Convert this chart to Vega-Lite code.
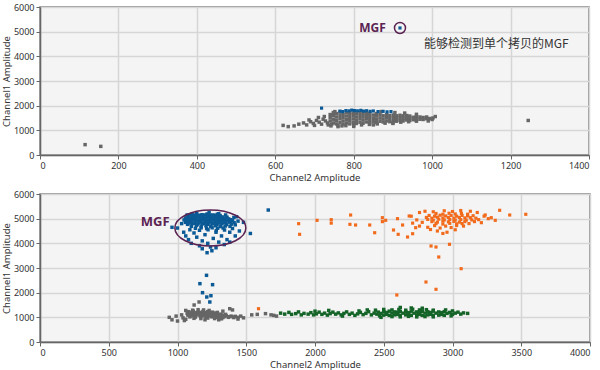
{
"$schema": "https://vega.github.io/schema/vega-lite/v6.json",
"padding": {"left": 0, "top": 2, "right": 0, "bottom": 0},
"background": "white",
"config": {
  "view": {"fill": "#f4f4f4", "stroke": "#7a7a7a", "strokeWidth": 1.5},
  "font": "Noto Sans",
  "axis": {"grid": true, "gridColor": "#d6d6d6", "gridWidth": 1.5, "domainColor": "#666666", "domainWidth": 1.5, "tickColor": "#666666", "tickSize": 4, "labelFont": "Noto Sans", "labelFontSize": 9, "labelColor": "#333333", "labelPadding": 2, "titleFont": "Noto Sans", "titleFontSize": 9.5, "titleFontWeight": "normal", "titleColor": "#333333", "titlePadding": 2, "format": "d"},
  "axisX": {"titlePadding": 2},
  "concat": {"spacing": 6}
},
"datasets": {
  "tg": [{"x":740,"y":1380},{"x":740,"y":1520},{"x":740,"y":1640},{"x":748,"y":1300},{"x":748,"y":1450},{"x":748,"y":1600},{"x":748,"y":1720},{"x":756,"y":1260},{"x":756,"y":1400},{"x":756,"y":1540},{"x":756,"y":1680},{"x":765,"y":1320},{"x":765,"y":1470},{"x":765,"y":1610},{"x":765,"y":1740},{"x":773,"y":1250},{"x":773,"y":1380},{"x":773,"y":1520},{"x":773,"y":1650},{"x":782,"y":1300},{"x":782,"y":1440},{"x":782,"y":1580},{"x":782,"y":1720},{"x":790,"y":1260},{"x":790,"y":1390},{"x":790,"y":1510},{"x":790,"y":1640},{"x":790,"y":1740},{"x":799,"y":1320},{"x":799,"y":1460},{"x":799,"y":1590},{"x":799,"y":1700},{"x":807,"y":1280},{"x":807,"y":1410},{"x":807,"y":1540},{"x":807,"y":1670},{"x":816,"y":1330},{"x":816,"y":1470},{"x":816,"y":1600},{"x":816,"y":1720},{"x":824,"y":1290},{"x":824,"y":1420},{"x":824,"y":1550},{"x":824,"y":1680},{"x":833,"y":1340},{"x":833,"y":1480},{"x":833,"y":1610},{"x":833,"y":1700},{"x":841,"y":1310},{"x":841,"y":1440},{"x":841,"y":1570},{"x":841,"y":1690},{"x":850,"y":1350},{"x":850,"y":1490},{"x":850,"y":1620},{"x":858,"y":1320},{"x":858,"y":1450},{"x":858,"y":1580},{"x":858,"y":1680},{"x":867,"y":1370},{"x":867,"y":1500},{"x":867,"y":1630},{"x":875,"y":1340},{"x":875,"y":1460},{"x":875,"y":1590},{"x":884,"y":1380},{"x":884,"y":1510},{"x":884,"y":1640},{"x":892,"y":1350},{"x":892,"y":1470},{"x":892,"y":1600},{"x":901,"y":1390},{"x":901,"y":1520},{"x":901,"y":1620},{"x":909,"y":1370},{"x":909,"y":1480},{"x":909,"y":1590},{"x":918,"y":1400},{"x":918,"y":1520},{"x":918,"y":1610},{"x":926,"y":1380},{"x":926,"y":1490},{"x":926,"y":1590},{"x":935,"y":1420},{"x":935,"y":1530},{"x":935,"y":1600},{"x":943,"y":1400},{"x":943,"y":1500},{"x":943,"y":1580},{"x":952,"y":1430},{"x":952,"y":1530},{"x":960,"y":1420},{"x":960,"y":1510},{"x":960,"y":1570},{"x":969,"y":1450},{"x":969,"y":1540},{"x":977,"y":1440},{"x":977,"y":1520},{"x":986,"y":1470},{"x":986,"y":1540},{"x":994,"y":1480},{"x":1002,"y":1500},
    {"x":760,"y":1200},{"x":780,"y":1190},{"x":800,"y":1210},{"x":820,"y":1220},{"x":840,"y":1240},{"x":860,"y":1260},{"x":880,"y":1290},{"x":900,"y":1310},{"x":920,"y":1330},{"x":940,"y":1350},{"x":960,"y":1370},{"x":752,"y":1760},{"x":744,"y":1250},
    {"x":620,"y":1200},{"x":633,"y":1150},{"x":648,"y":1180},{"x":660,"y":1250},{"x":672,"y":1300},{"x":680,"y":1220},{"x":690,"y":1350},{"x":697,"y":1280},{"x":705,"y":1400},{"x":712,"y":1330},{"x":718,"y":1250},{"x":722,"y":1450},{"x":728,"y":1380},{"x":733,"y":1300},{"x":700,"y":1200},{"x":686,"y":1420},{"x":710,"y":1520},{"x":725,"y":1560},{"x":735,"y":1220},{"x":742,"y":1180},{"x":760,"y":1150},{"x":770,"y":1180},{"x":800,"y":1160},{"x":850,"y":1220},{"x":900,"y":1280},{"x":990,"y":1380},{"x":1008,"y":1560},{"x":1000,"y":1440},{"x":960,"y":1650},{"x":930,"y":1700},{"x":870,"y":1760},{"x":905,"y":1720},{"x":115,"y":420},{"x":155,"y":350},{"x":1245,"y":1400}],
  "tb": [{"x":718,"y":1900},{"x":765,"y":1780},{"x":772,"y":1760},{"x":780,"y":1800},{"x":788,"y":1790},{"x":795,"y":1820},{"x":802,"y":1800},{"x":810,"y":1790},{"x":818,"y":1810},{"x":825,"y":1780},{"x":833,"y":1795},{"x":842,"y":1770},{"x":850,"y":1785},{"x":862,"y":1760},{"x":875,"y":1770},{"x":885,"y":1750},{"x":895,"y":1760},{"x":918,"y":5150}],
  "tnote": [{"x":918,"y":5150}],
  "tmgf": [{"x":882,"y":5150,"t":"MGF"}],
  "tcn": [{"x":979,"y":4480,"t":"能够检测到单个拷贝的MGF"}],
  "bb": [{"x":1105,"y":5170},{"x":1140,"y":5200},{"x":1178,"y":5160},{"x":1215,"y":5190},{"x":1255,"y":5150},{"x":1290,"y":5180},{"x":1075,"y":5110},{"x":1112,"y":5080},{"x":1148,"y":5120},{"x":1183,"y":5090},{"x":1220,"y":5110},{"x":1258,"y":5080},{"x":1293,"y":5100},{"x":1325,"y":5070},{"x":1360,"y":5060},{"x":1058,"y":5030},{"x":1093,"y":5000},{"x":1128,"y":5040},{"x":1163,"y":5010},{"x":1198,"y":5030},{"x":1236,"y":5000},{"x":1271,"y":5030},{"x":1306,"y":5000},{"x":1341,"y":5020},{"x":1372,"y":4990},{"x":1048,"y":4950},{"x":1083,"y":4920},{"x":1118,"y":4960},{"x":1153,"y":4930},{"x":1188,"y":4950},{"x":1225,"y":4920},{"x":1262,"y":4950},{"x":1297,"y":4920},{"x":1332,"y":4940},{"x":1367,"y":4910},{"x":1400,"y":4930},{"x":1058,"y":4850},{"x":1093,"y":4880},{"x":1128,"y":4840},{"x":1163,"y":4870},{"x":1200,"y":4850},{"x":1237,"y":4870},{"x":1272,"y":4840},{"x":1307,"y":4870},{"x":1342,"y":4840},{"x":1377,"y":4860},{"x":1412,"y":4840},{"x":1073,"y":4770},{"x":1108,"y":4800},{"x":1143,"y":4760},{"x":1180,"y":4790},{"x":1217,"y":4770},{"x":1252,"y":4790},{"x":1287,"y":4760},{"x":1322,"y":4790},{"x":1357,"y":4760},{"x":1392,"y":4780},{"x":1100,"y":4690},{"x":1137,"y":4720},{"x":1172,"y":4690},{"x":1207,"y":4710},{"x":1242,"y":4690},{"x":1277,"y":4710},{"x":1312,"y":4680},{"x":1347,"y":4700},{"x":1382,"y":4690},{"x":1130,"y":4610},{"x":1172,"y":4630},{"x":1212,"y":4600},{"x":1252,"y":4630},{"x":1292,"y":4610},{"x":1332,"y":4620},{"x":1160,"y":4530},{"x":1222,"y":4550},{"x":1282,"y":4520},{"x":1342,"y":4540},
    {"x":1090,"y":5140},{"x":1125,"y":5150},{"x":1160,"y":5140},{"x":1198,"y":5150},{"x":1238,"y":5130},{"x":1275,"y":5140},{"x":1310,"y":5130},{"x":1075,"y":5060},{"x":1110,"y":5050},{"x":1145,"y":5070},{"x":1180,"y":5050},{"x":1218,"y":5060},{"x":1253,"y":5050},{"x":1288,"y":5060},{"x":1323,"y":5040},{"x":1356,"y":5020},{"x":1065,"y":4990},{"x":1100,"y":4970},{"x":1135,"y":4990},{"x":1170,"y":4970},{"x":1207,"y":4990},{"x":1243,"y":4970},{"x":1280,"y":4980},{"x":1315,"y":4960},{"x":1350,"y":4970},{"x":1385,"y":4960},{"x":1065,"y":4900},{"x":1100,"y":4900},{"x":1135,"y":4910},{"x":1170,"y":4890},{"x":1207,"y":4900},{"x":1243,"y":4890},{"x":1280,"y":4900},{"x":1315,"y":4890},{"x":1350,"y":4900},{"x":1385,"y":4890},{"x":1085,"y":4820},{"x":1120,"y":4810},{"x":1155,"y":4820},{"x":1190,"y":4810},{"x":1226,"y":4820},{"x":1262,"y":4810},{"x":1297,"y":4820},
    {"x":1000,"y":4620},{"x":1030,"y":4800},{"x":1045,"y":4450},{"x":1060,"y":4300},{"x":1080,"y":4150},{"x":1100,"y":4000},{"x":1120,"y":4420},{"x":1140,"y":4250},{"x":1160,"y":3900},{"x":1180,"y":4100},{"x":1200,"y":4350},{"x":1220,"y":4000},{"x":1240,"y":3850},{"x":1260,"y":4200},{"x":1280,"y":4450},{"x":1300,"y":4050},{"x":1320,"y":4300},{"x":1340,"y":3950},{"x":1360,"y":4150},{"x":1380,"y":4450},{"x":1400,"y":4600},{"x":1420,"y":4750},{"x":1440,"y":4900},{"x":1450,"y":4500},{"x":1420,"y":4300},{"x":1380,"y":4050},{"x":1090,"y":4550},{"x":1070,"y":5150},{"x":1230,"y":5260},{"x":1300,"y":5200},{"x":1350,"y":5150},{"x":1410,"y":5050},{"x":1430,"y":5080},{"x":1250,"y":3700},{"x":1215,"y":3620},{"x":1180,"y":3780},{"x":1280,"y":3820},{"x":960,"y":4650},{"x":1660,"y":5350},{"x":1530,"y":4400},{"x":1480,"y":4850},
    {"x":1211,"y":2703},{"x":1163,"y":2365},{"x":1255,"y":2324},{"x":1182,"y":2000},{"x":1213,"y":1824},{"x":1243,"y":1877},{"x":1235,"y":1622}],
  "bo": [{"x":2880,"y":5210},{"x":2930,"y":5180},{"x":2975,"y":5220},{"x":3020,"y":5190},{"x":3065,"y":5210},{"x":3110,"y":5180},{"x":2830,"y":5130},{"x":2870,"y":5100},{"x":2910,"y":5140},{"x":2950,"y":5110},{"x":2990,"y":5130},{"x":3030,"y":5100},{"x":3070,"y":5130},{"x":3110,"y":5110},{"x":3150,"y":5120},{"x":2810,"y":5050},{"x":2850,"y":5020},{"x":2890,"y":5060},{"x":2930,"y":5030},{"x":2970,"y":5050},{"x":3010,"y":5020},{"x":3050,"y":5050},{"x":3090,"y":5030},{"x":3130,"y":5040},{"x":3170,"y":5020},{"x":2820,"y":4970},{"x":2860,"y":4940},{"x":2900,"y":4980},{"x":2940,"y":4950},{"x":2980,"y":4970},{"x":3020,"y":4940},{"x":3060,"y":4960},{"x":3100,"y":4940},{"x":3140,"y":4950},{"x":2850,"y":4880},{"x":2890,"y":4860},{"x":2930,"y":4900},{"x":2970,"y":4870},{"x":3010,"y":4890},{"x":3050,"y":4860},{"x":3090,"y":4880},{"x":2880,"y":4800},{"x":2930,"y":4780},{"x":2980,"y":4810},{"x":3030,"y":4790},{"x":3070,"y":4800},
    {"x":2700,"y":5100},{"x":2740,"y":4950},{"x":2760,"y":5250},{"x":2780,"y":4850},{"x":2800,"y":5300},{"x":2760,"y":4700},{"x":2820,"y":4650},{"x":2870,"y":4720},{"x":2910,"y":4620},{"x":2950,"y":4700},{"x":2990,"y":4640},{"x":3030,"y":4720},{"x":3080,"y":4700},{"x":3120,"y":4800},{"x":3160,"y":4880},{"x":3190,"y":4960},{"x":3210,"y":4837},{"x":3230,"y":5100},{"x":3260,"y":5000},{"x":3282,"y":5040},{"x":3311,"y":4933},{"x":3238,"y":5150},{"x":3180,"y":5250},{"x":3130,"y":5300},{"x":3060,"y":5330},{"x":3000,"y":5290},{"x":2940,"y":5320},{"x":2860,"y":5280},{"x":2840,"y":4560},{"x":2890,"y":4500},{"x":2960,"y":4450},{"x":3020,"y":4550},{"x":2930,"y":4400},{"x":3343,"y":5339},{"x":3416,"y":5148},{"x":3533,"y":5177},{"x":2685,"y":5108},{"x":2710,"y":4820},{"x":2732,"y":4634},{"x":2710,"y":4390},{"x":2673,"y":4257},{"x":2637,"y":4743},{"x":2605,"y":4365},{"x":2571,"y":4540},{"x":2600,"y":5000},{"x":2490,"y":5040},{"x":2514,"y":4933},{"x":2490,"y":4880},{"x":2434,"y":4430},{"x":2398,"y":4743},{"x":2295,"y":4743},{"x":2254,"y":4770},{"x":2259,"y":5148},{"x":2118,"y":4960},{"x":2118,"y":4820},{"x":2015,"y":4933},{"x":1881,"y":4797},{"x":1888,"y":4365},{"x":2844,"y":3892},{"x":2880,"y":3851},{"x":2900,"y":3446},{"x":2978,"y":3960},{"x":3063,"y":2972},{"x":2807,"y":2432},{"x":2880,"y":2136},{"x":2595,"y":1905},{"x":1589,"y":1350}],
  "bgr": [{"x":2560,"y":1300},{"x":2610,"y":1320},{"x":2660,"y":1290},{"x":2710,"y":1330},{"x":2760,"y":1300},{"x":2810,"y":1310},{"x":2860,"y":1290},{"x":2500,"y":1230},{"x":2540,"y":1250},{"x":2580,"y":1220},{"x":2620,"y":1240},{"x":2660,"y":1230},{"x":2700,"y":1250},{"x":2740,"y":1220},{"x":2780,"y":1240},{"x":2820,"y":1230},{"x":2860,"y":1250},{"x":2900,"y":1220},{"x":2940,"y":1230},{"x":2480,"y":1160},{"x":2520,"y":1150},{"x":2560,"y":1170},{"x":2600,"y":1150},{"x":2640,"y":1170},{"x":2680,"y":1150},{"x":2720,"y":1170},{"x":2760,"y":1150},{"x":2800,"y":1170},{"x":2840,"y":1150},{"x":2880,"y":1170},{"x":2920,"y":1150},{"x":2960,"y":1160},{"x":2500,"y":1090},{"x":2540,"y":1080},{"x":2580,"y":1100},{"x":2620,"y":1080},{"x":2660,"y":1100},{"x":2700,"y":1080},{"x":2740,"y":1100},{"x":2780,"y":1080},{"x":2820,"y":1100},{"x":2860,"y":1080},{"x":2900,"y":1090},{"x":2940,"y":1080},{"x":2560,"y":1030},{"x":2620,"y":1020},{"x":2680,"y":1040},{"x":2740,"y":1020},{"x":2800,"y":1030},{"x":2860,"y":1020},
    {"x":2520,"y":1195},{"x":2600,"y":1200},{"x":2680,"y":1190},{"x":2760,"y":1200},{"x":2840,"y":1195},{"x":2920,"y":1190},{"x":2520,"y":1125},{"x":2600,"y":1120},{"x":2680,"y":1130},{"x":2760,"y":1120},{"x":2840,"y":1125},{"x":2920,"y":1120},
    {"x":1750,"y":1170},{"x":1780,"y":1130},{"x":1810,"y":1200},{"x":1830,"y":1120},{"x":1860,"y":1150},{"x":1880,"y":1220},{"x":1900,"y":1100},{"x":1920,"y":1160},{"x":1950,"y":1130},{"x":1970,"y":1190},{"x":1990,"y":1100},{"x":2010,"y":1140},{"x":2030,"y":1210},{"x":2050,"y":1120},{"x":2070,"y":1170},{"x":2090,"y":1090},{"x":2110,"y":1150},{"x":2130,"y":1210},{"x":2150,"y":1130},{"x":2170,"y":1180},{"x":2190,"y":1100},{"x":2210,"y":1160},{"x":2230,"y":1220},{"x":2250,"y":1120},{"x":2270,"y":1170},{"x":2290,"y":1080},{"x":2310,"y":1140},{"x":2330,"y":1200},{"x":2350,"y":1110},{"x":2370,"y":1160},{"x":2390,"y":1230},{"x":2410,"y":1100},{"x":2430,"y":1170},{"x":2450,"y":1130},{"x":2460,"y":1210},{"x":2470,"y":1060},{"x":2200,"y":1050},{"x":2320,"y":1260},{"x":2100,"y":1280},{"x":2000,"y":1250},{"x":2380,"y":1300},{"x":2440,"y":1290},{"x":2980,"y":1200},{"x":3000,"y":1120},{"x":3020,"y":1170},{"x":3040,"y":1210},{"x":3060,"y":1130},{"x":3080,"y":1180},{"x":3110,"y":1160},{"x":3000,"y":1260},{"x":2990,"y":1060},{"x":2950,"y":1300},{"x":2700,"y":1380},{"x":2620,"y":1400},{"x":2780,"y":1370},{"x":2500,"y":1320},{"x":2480,"y":1000}],
  "bg": [{"x":1110,"y":1290},{"x":1150,"y":1310},{"x":1190,"y":1300},{"x":1230,"y":1280},{"x":1080,"y":1230},{"x":1115,"y":1250},{"x":1150,"y":1220},{"x":1185,"y":1240},{"x":1220,"y":1230},{"x":1255,"y":1210},{"x":1290,"y":1200},{"x":1070,"y":1160},{"x":1105,"y":1170},{"x":1140,"y":1150},{"x":1175,"y":1170},{"x":1210,"y":1150},{"x":1245,"y":1160},{"x":1280,"y":1140},{"x":1315,"y":1130},{"x":1350,"y":1120},{"x":1075,"y":1090},{"x":1110,"y":1080},{"x":1145,"y":1100},{"x":1180,"y":1080},{"x":1215,"y":1090},{"x":1250,"y":1080},{"x":1285,"y":1070},{"x":1320,"y":1060},{"x":1355,"y":1060},{"x":1390,"y":1050},{"x":1420,"y":1040},{"x":1090,"y":1020},{"x":1130,"y":1010},{"x":1170,"y":1030},{"x":1210,"y":1010},{"x":1250,"y":1020},{"x":1290,"y":1000},{"x":1330,"y":990},{"x":1370,"y":1000},{"x":1410,"y":990},{"x":1440,"y":1000},{"x":1120,"y":960},{"x":1170,"y":950},{"x":1220,"y":970},{"x":1270,"y":950},{"x":1320,"y":940},
    {"x":1095,"y":1200},{"x":1130,"y":1190},{"x":1165,"y":1200},{"x":1200,"y":1190},{"x":1235,"y":1195},{"x":1270,"y":1175},{"x":1090,"y":1125},{"x":1125,"y":1120},{"x":1160,"y":1130},{"x":1195,"y":1120},{"x":1230,"y":1125},{"x":1265,"y":1110},{"x":1300,"y":1100},{"x":1335,"y":1090},{"x":1095,"y":1055},{"x":1130,"y":1050},{"x":1165,"y":1060},{"x":1200,"y":1050},{"x":1235,"y":1055},{"x":1270,"y":1040},{"x":1305,"y":1030},{"x":1340,"y":1030},{"x":1375,"y":1025},{"x":1405,"y":1015},
    {"x":940,"y":1000},{"x":960,"y":900},{"x":1000,"y":850},{"x":990,"y":1050},{"x":1030,"y":1100},{"x":1050,"y":870},{"x":1040,"y":980},{"x":1060,"y":1280},{"x":1460,"y":1050},{"x":1480,"y":980},{"x":1400,"y":1300},{"x":1380,"y":1350},{"x":1330,"y":1250},{"x":1540,"y":1100},{"x":1580,"y":1120},{"x":1640,"y":1150},{"x":1680,"y":1100},{"x":1720,"y":1050},{"x":1700,"y":1080},{"x":1121,"y":1500},{"x":1157,"y":1622},{"x":1060,"y":920},{"x":1440,"y":930},{"x":1300,"y":900},{"x":1200,"y":900}],
  "bnote": [{"x":1239,"y":4622}],
  "bmgf": [{"x":943,"y":4865,"t":"MGF"}]
},
"vconcat": [
  {
    "width": 549, "height": 148,
    "encoding": {
      "x": {"field": "x", "type": "quantitative", "scale": {"domain": [0, 1400], "nice": false}, "axis": {"values": [0,200,400,600,800,1000,1200,1400], "title": "Channel2 Amplitude"}},
      "y": {"field": "y", "type": "quantitative", "scale": {"domain": [0, 6000], "nice": false}, "axis": {"values": [0,1000,2000,3000,4000,5000,6000], "title": "Channel1 Amplitude"}}
    },
    "layer": [
      {"data": {"name": "tg"}, "mark": {"type": "square", "size": 12, "color": "#666666", "opacity": 1}},
      {"data": {"name": "tb"}, "mark": {"type": "square", "size": 10, "color": "#0b5a96", "opacity": 1}},
      {"data": {"name": "tnote"}, "mark": {"type": "point", "shape": "circle", "size": 121, "filled": false, "stroke": "#5b2352", "strokeWidth": 1.5, "opacity": 1}},
      {"data": {"name": "tmgf"}, "mark": {"type": "text", "align": "right", "baseline": "middle", "font": "Noto Sans", "fontSize": 12, "fontWeight": "bold", "color": "#5b2352"}, "encoding": {"text": {"field": "t"}}},
      {"data": {"name": "tcn"}, "mark": {"type": "text", "align": "left", "baseline": "middle", "font": "Noto Sans CJK SC", "fontSize": 12, "color": "#333333"}, "encoding": {"text": {"field": "t"}}}
    ]
  },
  {
    "width": 550, "height": 148,
    "encoding": {
      "x": {"field": "x", "type": "quantitative", "scale": {"domain": [0, 4000], "nice": false}, "axis": {"values": [0,500,1000,1500,2000,2500,3000,3500,4000], "title": "Channel2 Amplitude"}},
      "y": {"field": "y", "type": "quantitative", "scale": {"domain": [0, 6000], "nice": false}, "axis": {"values": [0,1000,2000,3000,4000,5000,6000], "title": "Channel1 Amplitude"}}
    },
    "layer": [
      {"data": {"name": "bg"}, "mark": {"type": "square", "size": 12, "color": "#666666", "opacity": 1}},
      {"data": {"name": "bgr"}, "mark": {"type": "square", "size": 12, "color": "#146428", "opacity": 1}},
      {"data": {"name": "bo"}, "mark": {"type": "square", "size": 10, "color": "#f26a1b", "opacity": 1}},
      {"data": {"name": "bb"}, "mark": {"type": "square", "size": 12, "color": "#0b5a96", "opacity": 1}},
      {"data": {"name": "bnote"}, "mark": {"type": "point", "shape": "M -1 0 A 1 0.507 0 1 1 1 0 A 1 0.507 0 1 1 -1 0 Z", "size": 5041, "filled": false, "stroke": "#5b2352", "strokeWidth": 1.5, "opacity": 1}},
      {"data": {"name": "bmgf"}, "mark": {"type": "text", "align": "right", "baseline": "middle", "font": "Noto Sans", "fontSize": 13, "fontWeight": "bold", "color": "#5b2352"}, "encoding": {"text": {"field": "t"}}}
    ]
  }
]
}
